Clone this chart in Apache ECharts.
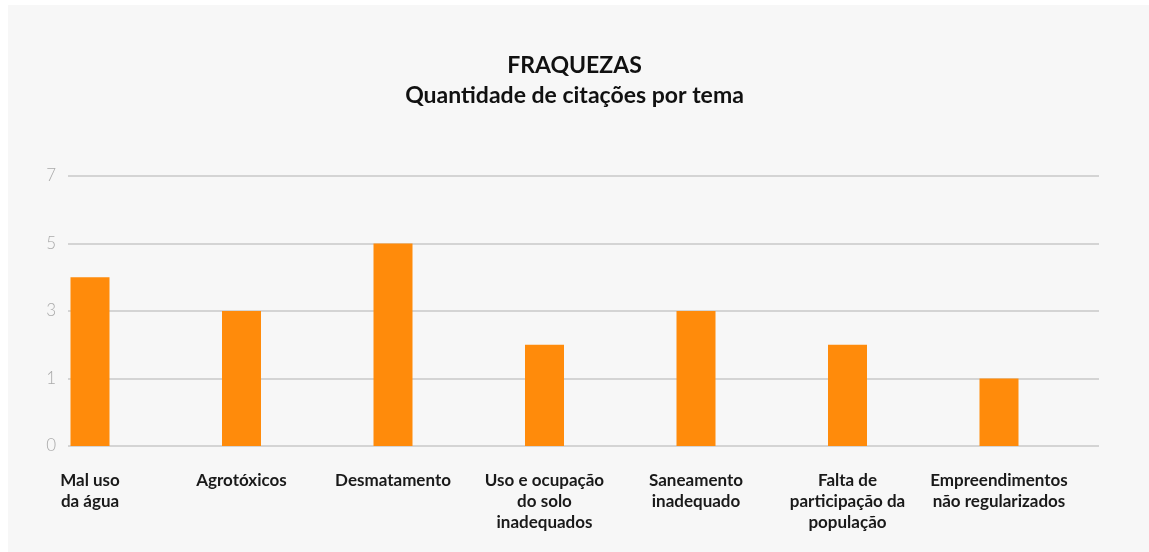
<!DOCTYPE html>
<html>
<head>
<meta charset="utf-8">
<script src="https://cdn.jsdelivr.net/npm/echarts@6/dist/echarts.min.js"></script>
<style>
  html, body { margin: 0; padding: 0; background: #fff; }
  #panel { position: absolute; left: 8px; top: 5px; width: 1141px; height: 547px; background: #f7f7f7; }
  #chart { position: absolute; left: 0; top: 0; width: 1149px; height: 552px; }
</style>
</head>
<body>
<div id="panel"></div>
<div id="chart"></div>
<script>
// dados
var categorias = ['Mal uso\nda água', 'Agrotóxicos', 'Desmatamento', 'Uso e ocupação\ndo solo\ninadequados',
    'Saneamento\ninadequado', 'Falta de\nparticipação da\npopulação', 'Empreendimentos\nnão regularizados'];
var citacoes = [4, 3, 5, 2, 3, 2, 1];
// rótulos do eixo como aparecem no original (0 na base, depois 1, 3, 5, 7)
var rotulosY = ['0', '1', '3', '5', '7'];

var myChart = echarts.init(document.getElementById('chart'));

// o eixo original tem passo 2 a partir de -1, então desloca tudo +1
var dadosPlot = citacoes.map(function (v) { return v + 1; });

var option = {
    animation: false,
    textStyle: { fontFamily: 'Lato' },
    title: {
        text: 'FRAQUEZAS\nQuantidade de citações por tema',
        left: 'center',
        top: 46,
        textStyle: { fontSize: 23, fontWeight: 'bold', color: '#111', lineHeight: 30, fontFamily: 'Lato' }
    },
    grid: [
        { left: 68, right: 50, top: 176, bottom: 106 },
        { left: 90, right: 150, top: 176, bottom: 106 }
    ],
    xAxis: [
        { type: 'category', gridIndex: 0, show: false, data: categorias },
        {
            type: 'category', gridIndex: 1, data: categorias, boundaryGap: false,
            axisLine: { show: false }, axisTick: { show: false },
            axisLabel: { interval: 0, margin: 24, fontSize: 17, color: '#1a1a1a', lineHeight: 21, fontWeight: 'bold', align: 'center' }
        }
    ],
    yAxis: [
        {
            type: 'value', gridIndex: 0, min: 0, max: 8, interval: 2,
            axisLine: { show: false }, axisTick: { show: false },
            axisLabel: {
                margin: 12, fontSize: 17, color: '#aaaaaa', fontWeight: 300,
                formatter: function (v) { return rotulosY[v / 2]; }
            },
            splitLine: { lineStyle: { color: '#c8c8c8', width: 1.5 } }
        },
        { type: 'value', gridIndex: 1, min: 0, max: 8, interval: 2, show: false, splitLine: { show: false } }
    ],
    series: [
        {
            name: 'Citações',
            type: 'bar',
            xAxisIndex: 1,
            yAxisIndex: 1,
            barWidth: 39,
            itemStyle: { color: '#ff8b0b' },
            data: dadosPlot
        }
    ]
};

myChart.setOption(option);
</script>
</body>
</html>
